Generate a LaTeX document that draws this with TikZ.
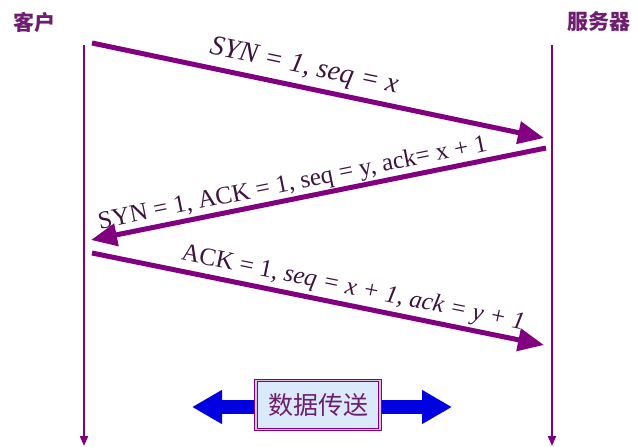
\documentclass[tikz,border=0pt]{standalone}
\usepackage{fontspec}
\setmainfont{Liberation Serif}
\newfontfamily\cjk{Noto Sans CJK SC}
\usetikzlibrary{arrows.meta}
\definecolor{lifepurple}{RGB}{128,0,128}
\definecolor{labelink}{RGB}{60,20,60}
\definecolor{cnink}{RGB}{110,30,110}
\definecolor{boxfill}{RGB}{218,234,250}
\definecolor{flowblue}{RGB}{0,0,225}
\tikzset{
  lifeline/.style={draw=lifepurple, line width=2pt, -{Triangle[length=10pt,width=8pt]}},
  msg/.style={draw=lifepurple, line width=5pt, -{Triangle[length=26pt,width=22pt]}},
  msglabel/.style={sloped, above, text=labelink, inner sep=1pt,
    font=\fontsize{25}{27}\selectfont},
  party/.style={text=cnink, font=\cjk\bfseries\fontsize{21}{23}\selectfont},
}
\begin{document}
\begin{tikzpicture}[x=1pt, y=-1pt]
  \useasboundingbox (0,0) rectangle (638,447);
  % the two parties and their time lines
  \node[party] (client) at (34,22) {客户};
  \node[party] (server) at (599,22) {服务器};
  \coordinate (cTop) at (84,45);
  \coordinate (cEnd) at (84,446);
  \coordinate (sTop) at (552,45);
  \coordinate (sEnd) at (552,446);
  \draw[lifeline] (cTop) -- (cEnd);
  \draw[lifeline] (sTop) -- (sEnd);
  % three-way handshake
  \coordinate (m1a) at (92,43);
  \coordinate (m1b) at (544,138);
  \coordinate (m2a) at (546,148);
  \coordinate (m2b) at (91,240);
  \coordinate (m3a) at (92,253);
  \coordinate (m3b) at (544,345);
  \draw[msg] (m1a) -- node[msglabel, pos=0.46, above=4pt,
    font=\fontsize{28}{30}\selectfont]{\itshape SYN = 1, seq = x} (m1b);
  \draw[msg] (m2a) -- node[msglabel, pos=0.55, above=0pt]{SYN = 1, ACK = 1, seq = y, ack= x + 1} (m2b);
  \draw[msg] (m3a) -- node[msglabel, pos=0.57, above=2pt]{ACK = 1, \itshape seq = x + 1, ack = y + 1} (m3b);
  % data transfer
  \coordinate (dLeft) at (192,407);
  \coordinate (dRight) at (452,407);
  \draw[flowblue, line width=14pt,
    {Triangle[length=30pt,width=32pt]}-{Triangle[length=30pt,width=32pt]}] (dLeft) -- (dRight);
  \node[draw=lifepurple, line width=1.2pt, double=violet!25, double distance=1.5pt,
    fill=boxfill, minimum width=124pt, minimum height=49pt, inner sep=0pt,
    text=cnink, font=\cjk\fontsize{25}{27}\selectfont] (data) at (318,405) {数据传送};
\end{tikzpicture}
\end{document}
